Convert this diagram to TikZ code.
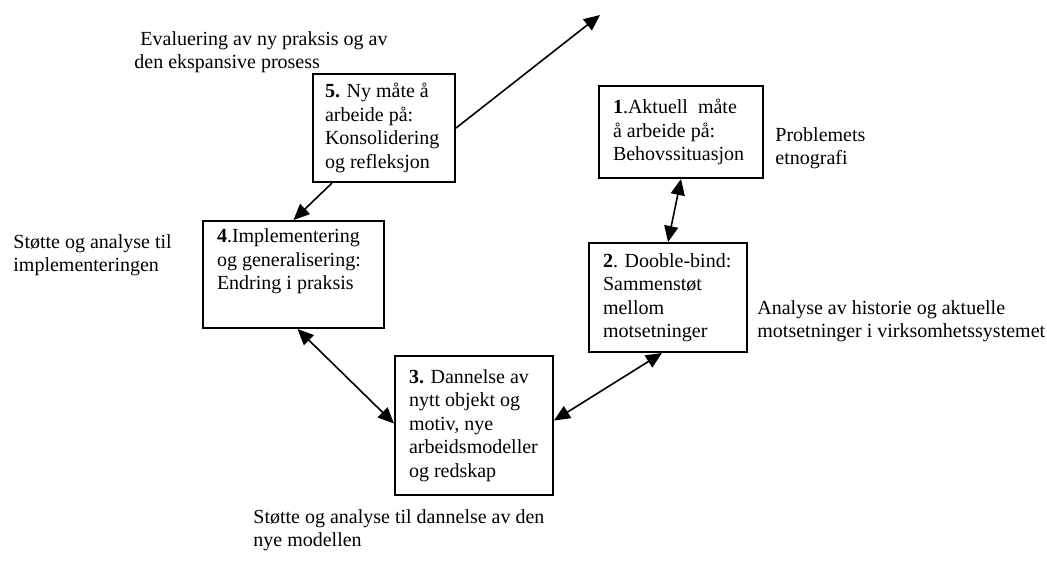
\documentclass[tikz,border=0pt]{standalone}
\usepackage{fontspec}
\setmainfont{Liberation Serif}
\usetikzlibrary{arrows.meta, calc}

\begin{document}
\begin{tikzpicture}[
    x=0.5pt, y=-0.5pt,
    every node/.style={font=\fontsize{10}{11.75}\selectfont},
    stage/.style={draw, line width=1pt, align=flush left, inner xsep=7pt, inner ysep=0pt},
    note/.style={align=flush left, inner sep=0pt, anchor=west},
    arr/.style={-{Triangle[length=8pt, width=7pt]}, line width=0.8pt},
    dbl/.style={{Triangle[length=8pt, width=7pt]}-{Triangle[length=8pt, width=7pt]}, line width=0.8pt}
]
    \useasboundingbox (0,0) rectangle (1047,570);

    % --- Stages of the cycle ---
    \node[stage, text width=68pt, minimum height=46pt] (b1) at (681,132) {\textbf{1}.Aktuell\ \ måte\\ å arbeide på:\\ Behovssituasjon};
    \node[stage, text width=65pt, minimum height=54.5pt] (b2) at (668,297.5) {\textbf{2}. Dooble-bind:\\ Sammenstøt\\ mellom\\ motsetninger};
    \node[stage, text width=65pt, minimum height=69.5pt] (b3) at (474,425.5) {\textbf{3.} Dannelse av\\ nytt objekt og\\ motiv, nye\\ arbeidsmodeller\\ og redskap};
    \node[stage, text width=76.5pt, minimum height=53.5pt] (b4) at (293.5,274.5) {\textbf{4}.Implementering\\ og generalisering:\\ Endring i praksis\\ \strut};
    \node[stage, inner xsep=6pt, text width=59pt, minimum height=54pt] (b5) at (384,128) {\textbf{5.} Ny måte å\\ arbeide på:\\ Konsolidering\\ og refleksjon};

    % --- Notes beside the stages ---
    \node[note] (eval) at (134,52) {\hspace*{3pt}Evaluering av ny praksis og av\\ den ekspansive prosess};
    \node[note] (probl) at (775,148) {Problemets\\ etnografi};
    \node[note] (impl) at (13,255) {Støtte og analyse til\\ implementeringen};
    \node[note] (hist) at (757,321) {Analyse av historie og aktuelle\\ motsetninger i virksomhetssystemet};
    \node[note] (model) at (253,530) {Støtte og analyse til dannelse av den\\ nye modellen};

    % --- Arrows ---
    \coordinate (up) at (600,15);
    \draw[arr] (b5.east) -- (up);
    \draw[arr] ($(b5.south west)+(20,0)$) -- (b4.north);
    \draw[dbl] (b1.south) -- (b2.north);
    \draw[dbl] ($(b2.south)+(-6,0)$) -- ($(b3.east)+(0,-5)$);
    \draw[dbl] ($(b4.south)+(4,0)$) -- ($(b3.west)+(0,-2)$);
\end{tikzpicture}
\end{document}
